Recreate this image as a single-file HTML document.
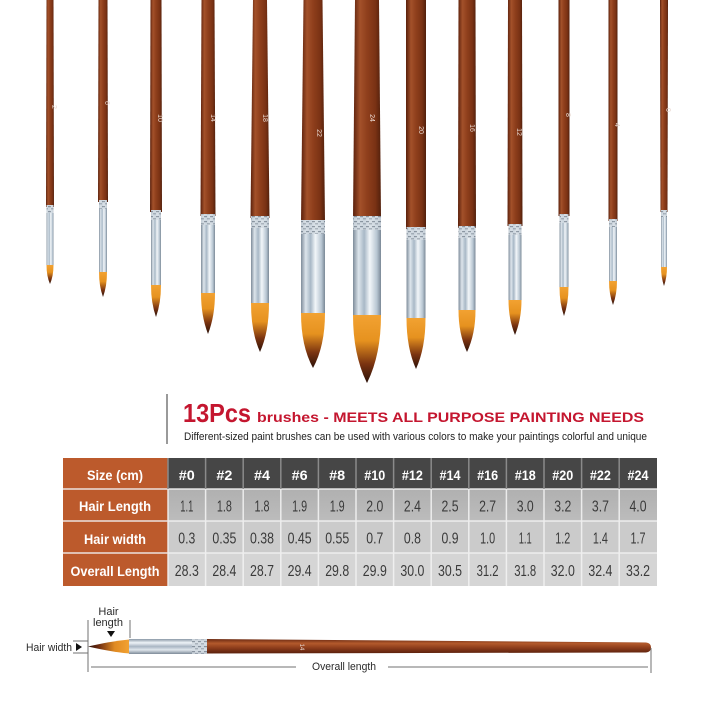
<!DOCTYPE html>
<html><head><meta charset="utf-8"><style>
html,body{margin:0;padding:0;background:#fff;}
svg{display:block;}
text{font-family:"Liberation Sans",sans-serif;}
</style></head><body>
<svg width="720" height="720" viewBox="0 0 720 720" xmlns="http://www.w3.org/2000/svg">
<defs>
<linearGradient id="hv" x1="0" y1="0" x2="1" y2="0">
<stop offset="0" stop-color="#5a200c"/><stop offset=".25" stop-color="#a3512a"/><stop offset=".5" stop-color="#8f3f1c"/><stop offset=".8" stop-color="#7a3214"/><stop offset="1" stop-color="#52200c"/>
</linearGradient>
<linearGradient id="fv" x1="0" y1="0" x2="1" y2="0">
<stop offset="0" stop-color="#7e8c9a"/><stop offset=".2" stop-color="#dde5ec"/><stop offset=".4" stop-color="#a8b8c6"/><stop offset=".6" stop-color="#f2f6f9"/><stop offset=".85" stop-color="#b8c6d2"/><stop offset="1" stop-color="#7a8896"/>
</linearGradient>
<linearGradient id="tv" x1="0" y1="0" x2="0" y2="1">
<stop offset="0" stop-color="#f2a232"/><stop offset=".38" stop-color="#e6921f"/><stop offset=".72" stop-color="#7a3310"/><stop offset="1" stop-color="#2a1008"/>
</linearGradient>
<linearGradient id="hh" x1="0" y1="0" x2="0" y2="1">
<stop offset="0" stop-color="#6b2a12"/><stop offset=".3" stop-color="#b35a2c"/><stop offset=".6" stop-color="#8f3e1c"/><stop offset="1" stop-color="#5a200c"/>
</linearGradient>
<linearGradient id="fh" x1="0" y1="0" x2="0" y2="1">
<stop offset="0" stop-color="#8a98a6"/><stop offset=".25" stop-color="#eef3f7"/><stop offset=".5" stop-color="#a9b6c3"/><stop offset=".72" stop-color="#dfe6ec"/><stop offset="1" stop-color="#7d8a98"/>
</linearGradient>
<linearGradient id="th" x1="1" y1="0" x2="0" y2="0">
<stop offset="0" stop-color="#f2a232"/><stop offset=".35" stop-color="#e08a22"/><stop offset=".75" stop-color="#6a2a10"/><stop offset="1" stop-color="#2a1008"/>
</linearGradient>
<linearGradient id="r2" x1="0" y1="0" x2="0" y2="1">
<stop offset="0" stop-color="#b0b0b0"/><stop offset="1" stop-color="#bcbcbc"/>
</linearGradient>
<pattern id="cr" width="6" height="5" patternUnits="userSpaceOnUse">
<rect width="6" height="5" fill="#d4dce3"/>
<rect x="0" y="1" width="3" height="1.2" fill="#7d8894"/>
<rect x="3" y="3.2" width="3" height="1.2" fill="#8e99a4"/>
</pattern>
</defs>

<rect width="720" height="720" fill="#fff"/>

<!-- Brushes -->
<g>
<polygon points="46.5,0 53.5,0 54,207 46,207" fill="url(#hv)"/>
<rect x="46.5" y="205" width="7" height="60" fill="url(#fv)"/><rect x="46.5" y="205" width="7" height="8" fill="url(#cr)" opacity=".8"/>
<path d="M46.5,265 L53.5,265 Q53.5,276 50,284 Q46.5,276 46.5,265Z" fill="url(#tv)"/>

<polygon points="98.5,0 107.5,0 108,202 98,202" fill="url(#hv)"/>
<rect x="99" y="200" width="8" height="72" fill="url(#fv)"/><rect x="99" y="200" width="8" height="9" fill="url(#cr)" opacity=".8"/>
<path d="M99,272 L107,272 Q107,286 103,297 Q99,286 99,272Z" fill="url(#tv)"/>

<polygon points="150.5,0 161.5,0 162,212 150,212" fill="url(#hv)"/>
<rect x="151" y="210" width="10" height="75" fill="url(#fv)"/><rect x="151" y="210" width="10" height="10" fill="url(#cr)" opacity=".8"/>
<path d="M151,285 L161,285 Q161,303 156,317 Q151,303 151,285Z" fill="url(#tv)"/>

<polygon points="201.5,0 214.5,0 215.5,216 200.5,216" fill="url(#hv)"/>
<rect x="201" y="214" width="14" height="79" fill="url(#fv)"/><rect x="201" y="214" width="14" height="11" fill="url(#cr)" opacity=".8"/>
<path d="M201,293 L215,293 Q215,316 208,334 Q201,316 201,293Z" fill="url(#tv)"/>

<polygon points="253,0 267,0 269.5,218 250.5,218" fill="url(#hv)"/>
<rect x="251" y="216" width="18" height="87" fill="url(#fv)"/><rect x="251" y="216" width="18" height="12" fill="url(#cr)" opacity=".8"/>
<path d="M251,303 L269,303 Q269,332 260,352 Q251,332 251,303Z" fill="url(#tv)"/>

<polygon points="303.5,0 322.5,0 325,222 301,222" fill="url(#hv)"/>
<rect x="301" y="220" width="24" height="93" fill="url(#fv)"/><rect x="301" y="220" width="24" height="14" fill="url(#cr)" opacity=".8"/>
<path d="M301,313 L325,313 Q325,346 313,368 Q301,346 301,313Z" fill="url(#tv)"/>

<polygon points="355,0 379,0 381,218 353,218" fill="url(#hv)"/>
<rect x="353" y="216" width="28" height="99" fill="url(#fv)"/><rect x="353" y="216" width="28" height="14" fill="url(#cr)" opacity=".8"/>
<path d="M353,315 L381,315 Q381,355 367,383 Q353,355 353,315Z" fill="url(#tv)"/>

<polygon points="406,0 426,0 426,229 406,229" fill="url(#hv)"/>
<rect x="406.5" y="227" width="19" height="91" fill="url(#fv)"/><rect x="406.5" y="227" width="19" height="13" fill="url(#cr)" opacity=".8"/>
<path d="M406.5,318 L425.5,318 Q425.5,348 416,369 Q406.5,348 406.5,318Z" fill="url(#tv)"/>

<polygon points="458.5,0 475.5,0 476,228 458,228" fill="url(#hv)"/>
<rect x="458.5" y="226" width="17" height="84" fill="url(#fv)"/><rect x="458.5" y="226" width="17" height="12" fill="url(#cr)" opacity=".8"/>
<path d="M458.5,310 L475.5,310 Q475.5,334 467,352 Q458.5,334 458.5,310Z" fill="url(#tv)"/>

<polygon points="508,0 522,0 522.5,226 507.5,226" fill="url(#hv)"/>
<rect x="508.5" y="224" width="13" height="76" fill="url(#fv)"/><rect x="508.5" y="224" width="13" height="11" fill="url(#cr)" opacity=".8"/>
<path d="M508.5,300 L521.5,300 Q521.5,319 515,335 Q508.5,319 508.5,300Z" fill="url(#tv)"/>

<polygon points="558.5,0 569.5,0 569.5,216 558.5,216" fill="url(#hv)"/>
<rect x="559.5" y="214" width="9" height="73" fill="url(#fv)"/><rect x="559.5" y="214" width="9" height="9" fill="url(#cr)" opacity=".8"/>
<path d="M559.5,287 L568.5,287 Q568.5,303 564,316 Q559.5,303 559.5,287Z" fill="url(#tv)"/>

<polygon points="608.5,0 617.5,0 617.5,221 608.5,221" fill="url(#hv)"/>
<rect x="609" y="219" width="8" height="62" fill="url(#fv)"/><rect x="609" y="219" width="8" height="8" fill="url(#cr)" opacity=".8"/>
<path d="M609,281 L617,281 Q617,294 613,305 Q609,294 609,281Z" fill="url(#tv)"/>

<polygon points="660,0 668,0 667.5,212 660.5,212" fill="url(#hv)"/>
<rect x="661" y="210" width="6" height="57" fill="url(#fv)"/><rect x="661" y="210" width="6" height="7" fill="url(#cr)" opacity=".8"/>
<path d="M661,267 L667,267 Q667,277 664,286 Q661,277 661,267Z" fill="url(#tv)"/>
</g>

<!-- handle numbers -->
<g fill="#e8d8d0" font-size="7" text-anchor="middle">
<text transform="translate(52,107) rotate(90)">2</text>
<text transform="translate(105,103) rotate(90)">6</text>
<text transform="translate(158,118) rotate(90)">10</text>
<text transform="translate(211,118) rotate(90)">14</text>
<text transform="translate(263,118) rotate(90)">18</text>
<text transform="translate(317,133) rotate(90)">22</text>
<text transform="translate(370,118) rotate(90)">24</text>
<text transform="translate(419,130) rotate(90)">20</text>
<text transform="translate(470,128) rotate(90)">16</text>
<text transform="translate(517,132) rotate(90)">12</text>
<text transform="translate(566,115) rotate(90)">8</text>
<text transform="translate(615,125) rotate(90)">4</text>
<text transform="translate(666,110) rotate(90)">0</text>
</g>

<!-- Title -->
<rect x="166" y="394" width="2" height="50" fill="#9a9a9a"/>
<text x="183" y="422" font-size="26" font-weight="bold" fill="#c4162f" textLength="68" lengthAdjust="spacingAndGlyphs">13Pcs</text>
<text x="257" y="422" font-size="14" font-weight="bold" fill="#c4162f" textLength="387" lengthAdjust="spacingAndGlyphs">brushes - MEETS ALL PURPOSE PAINTING NEEDS</text>
<text x="184" y="440" font-size="11" fill="#222" textLength="463" lengthAdjust="spacingAndGlyphs">Different-sized paint brushes can be used with various colors to make your paintings colorful and unique</text>

<!-- Table -->
<rect x="63" y="458" width="105" height="128" fill="#bc5a2c"/>
<rect x="168" y="458" width="489" height="31" fill="#464646"/>
<rect x="168" y="489" width="489" height="32" fill="url(#r2)"/>
<rect x="168" y="521" width="489" height="32" fill="#cbcbcb"/>
<rect x="168" y="553" width="489" height="33" fill="#d5d5d5"/>
<g stroke="#f2f2f2" stroke-width="1.5" opacity=".9">
<line x1="63" y1="489" x2="657" y2="489"/>
<line x1="63" y1="521" x2="657" y2="521"/>
<line x1="63" y1="553" x2="657" y2="553"/>
<line x1="168" y1="489" x2="168" y2="586"/>
<line x1="205.6" y1="489" x2="205.6" y2="586"/>
<line x1="243.2" y1="489" x2="243.2" y2="586"/>
<line x1="280.8" y1="489" x2="280.8" y2="586"/>
<line x1="318.4" y1="489" x2="318.4" y2="586"/>
<line x1="356" y1="489" x2="356" y2="586"/>
<line x1="393.6" y1="489" x2="393.6" y2="586"/>
<line x1="431.2" y1="489" x2="431.2" y2="586"/>
<line x1="468.8" y1="489" x2="468.8" y2="586"/>
<line x1="506.4" y1="489" x2="506.4" y2="586"/>
<line x1="544" y1="489" x2="544" y2="586"/>
<line x1="581.6" y1="489" x2="581.6" y2="586"/>
<line x1="619.2" y1="489" x2="619.2" y2="586"/>
</g>
<g stroke="#8a8a8a" stroke-width="1.5">
<line x1="168" y1="458" x2="168" y2="489"/>
<line x1="205.6" y1="458" x2="205.6" y2="489"/>
<line x1="243.2" y1="458" x2="243.2" y2="489"/>
<line x1="280.8" y1="458" x2="280.8" y2="489"/>
<line x1="318.4" y1="458" x2="318.4" y2="489"/>
<line x1="356" y1="458" x2="356" y2="489"/>
<line x1="393.6" y1="458" x2="393.6" y2="489"/>
<line x1="431.2" y1="458" x2="431.2" y2="489"/>
<line x1="468.8" y1="458" x2="468.8" y2="489"/>
<line x1="506.4" y1="458" x2="506.4" y2="489"/>
<line x1="544" y1="458" x2="544" y2="489"/>
<line x1="581.6" y1="458" x2="581.6" y2="489"/>
<line x1="619.2" y1="458" x2="619.2" y2="489"/>
</g>

<g fill="#fff" font-size="14" font-weight="bold" text-anchor="middle">
<text x="115" y="480" textLength="56" lengthAdjust="spacingAndGlyphs">Size (cm)</text>
<text x="115" y="511" textLength="72" lengthAdjust="spacingAndGlyphs">Hair Length</text>
<text x="115" y="544" textLength="62" lengthAdjust="spacingAndGlyphs">Hair width</text>
<text x="115" y="576" textLength="89" lengthAdjust="spacingAndGlyphs">Overall Length</text>
</g>

<g fill="#fff" font-size="14" font-weight="bold" text-anchor="middle">
<text x="186.8" y="480" textLength="16" lengthAdjust="spacingAndGlyphs">#0</text>
<text x="224.4" y="480" textLength="16" lengthAdjust="spacingAndGlyphs">#2</text>
<text x="262" y="480" textLength="16" lengthAdjust="spacingAndGlyphs">#4</text>
<text x="299.6" y="480" textLength="16" lengthAdjust="spacingAndGlyphs">#6</text>
<text x="337.2" y="480" textLength="16" lengthAdjust="spacingAndGlyphs">#8</text>
<text x="374.8" y="480" textLength="21" lengthAdjust="spacingAndGlyphs">#10</text>
<text x="412.4" y="480" textLength="21" lengthAdjust="spacingAndGlyphs">#12</text>
<text x="450" y="480" textLength="21" lengthAdjust="spacingAndGlyphs">#14</text>
<text x="487.6" y="480" textLength="21" lengthAdjust="spacingAndGlyphs">#16</text>
<text x="525.2" y="480" textLength="21" lengthAdjust="spacingAndGlyphs">#18</text>
<text x="562.8" y="480" textLength="21" lengthAdjust="spacingAndGlyphs">#20</text>
<text x="600.4" y="480" textLength="21" lengthAdjust="spacingAndGlyphs">#22</text>
<text x="638" y="480" textLength="21" lengthAdjust="spacingAndGlyphs">#24</text>
</g>

<g fill="#3a3a3a" font-size="16" text-anchor="middle">
<text x="186.8" y="511.5" textLength="13" lengthAdjust="spacingAndGlyphs">1.1</text>
<text x="224.4" y="511.5" textLength="15" lengthAdjust="spacingAndGlyphs">1.8</text>
<text x="262" y="511.5" textLength="15" lengthAdjust="spacingAndGlyphs">1.8</text>
<text x="299.6" y="511.5" textLength="15" lengthAdjust="spacingAndGlyphs">1.9</text>
<text x="337.2" y="511.5" textLength="15" lengthAdjust="spacingAndGlyphs">1.9</text>
<text x="374.8" y="511.5" textLength="17" lengthAdjust="spacingAndGlyphs">2.0</text>
<text x="412.4" y="511.5" textLength="17" lengthAdjust="spacingAndGlyphs">2.4</text>
<text x="450" y="511.5" textLength="17" lengthAdjust="spacingAndGlyphs">2.5</text>
<text x="487.6" y="511.5" textLength="17" lengthAdjust="spacingAndGlyphs">2.7</text>
<text x="525.2" y="511.5" textLength="17" lengthAdjust="spacingAndGlyphs">3.0</text>
<text x="562.8" y="511.5" textLength="17" lengthAdjust="spacingAndGlyphs">3.2</text>
<text x="600.4" y="511.5" textLength="17" lengthAdjust="spacingAndGlyphs">3.7</text>
<text x="638" y="511.5" textLength="17" lengthAdjust="spacingAndGlyphs">4.0</text>

<text x="186.8" y="543.5" textLength="17" lengthAdjust="spacingAndGlyphs">0.3</text>
<text x="224.4" y="543.5" textLength="24" lengthAdjust="spacingAndGlyphs">0.35</text>
<text x="262" y="543.5" textLength="24" lengthAdjust="spacingAndGlyphs">0.38</text>
<text x="299.6" y="543.5" textLength="24" lengthAdjust="spacingAndGlyphs">0.45</text>
<text x="337.2" y="543.5" textLength="24" lengthAdjust="spacingAndGlyphs">0.55</text>
<text x="374.8" y="543.5" textLength="17" lengthAdjust="spacingAndGlyphs">0.7</text>
<text x="412.4" y="543.5" textLength="17" lengthAdjust="spacingAndGlyphs">0.8</text>
<text x="450" y="543.5" textLength="17" lengthAdjust="spacingAndGlyphs">0.9</text>
<text x="487.6" y="543.5" textLength="15" lengthAdjust="spacingAndGlyphs">1.0</text>
<text x="525.2" y="543.5" textLength="13" lengthAdjust="spacingAndGlyphs">1.1</text>
<text x="562.8" y="543.5" textLength="15" lengthAdjust="spacingAndGlyphs">1.2</text>
<text x="600.4" y="543.5" textLength="15" lengthAdjust="spacingAndGlyphs">1.4</text>
<text x="638" y="543.5" textLength="15" lengthAdjust="spacingAndGlyphs">1.7</text>

<text x="186.8" y="576" textLength="24" lengthAdjust="spacingAndGlyphs">28.3</text>
<text x="224.4" y="576" textLength="24" lengthAdjust="spacingAndGlyphs">28.4</text>
<text x="262" y="576" textLength="24" lengthAdjust="spacingAndGlyphs">28.7</text>
<text x="299.6" y="576" textLength="24" lengthAdjust="spacingAndGlyphs">29.4</text>
<text x="337.2" y="576" textLength="24" lengthAdjust="spacingAndGlyphs">29.8</text>
<text x="374.8" y="576" textLength="24" lengthAdjust="spacingAndGlyphs">29.9</text>
<text x="412.4" y="576" textLength="24" lengthAdjust="spacingAndGlyphs">30.0</text>
<text x="450" y="576" textLength="24" lengthAdjust="spacingAndGlyphs">30.5</text>
<text x="487.6" y="576" textLength="22" lengthAdjust="spacingAndGlyphs">31.2</text>
<text x="525.2" y="576" textLength="22" lengthAdjust="spacingAndGlyphs">31.8</text>
<text x="562.8" y="576" textLength="24" lengthAdjust="spacingAndGlyphs">32.0</text>
<text x="600.4" y="576" textLength="24" lengthAdjust="spacingAndGlyphs">32.4</text>
<text x="638" y="576" textLength="24" lengthAdjust="spacingAndGlyphs">33.2</text>
</g>

<!-- Bottom diagram -->
<path d="M207,639 L646,642.5 Q651,643 651,647.5 Q651,652 646,652.5 L207,653.5 Z" fill="url(#hh)"/>
<rect x="129" y="639" width="78" height="15" fill="url(#fh)"/>
<rect x="192" y="639" width="15" height="15" fill="url(#cr)" opacity=".8"/>
<path d="M129,639.5 L129,653.5 Q112,652 88,646.5 Q112,641 129,639.5Z" fill="url(#th)"/>
<text transform="translate(300,647) rotate(90)" font-size="6" fill="#e8d8d0" text-anchor="middle">14</text>

<g stroke="#707070" stroke-width="1" fill="none">
<line x1="88" y1="620" x2="88" y2="672"/>
<line x1="130" y1="620" x2="130" y2="638"/>
<line x1="73" y1="641" x2="88" y2="641"/>
<line x1="73" y1="653" x2="88" y2="653"/>
<line x1="91" y1="667" x2="296" y2="667"/>
<line x1="388" y1="667" x2="648" y2="667"/>
<line x1="651" y1="648" x2="651" y2="673"/>
</g>
<polygon points="76,643 82,647 76,651" fill="#111"/>
<polygon points="107,631 115,631 111,637" fill="#111"/>
<g fill="#2a2a2a" font-size="11">
<text x="108.5" y="615" text-anchor="middle">Hair</text>
<text x="108" y="626" text-anchor="middle">length</text>
<text x="26" y="651" textLength="46" lengthAdjust="spacingAndGlyphs">Hair width</text>
<text x="312" y="670" textLength="64" lengthAdjust="spacingAndGlyphs">Overall length</text>
</g>
</svg>
</body></html>
